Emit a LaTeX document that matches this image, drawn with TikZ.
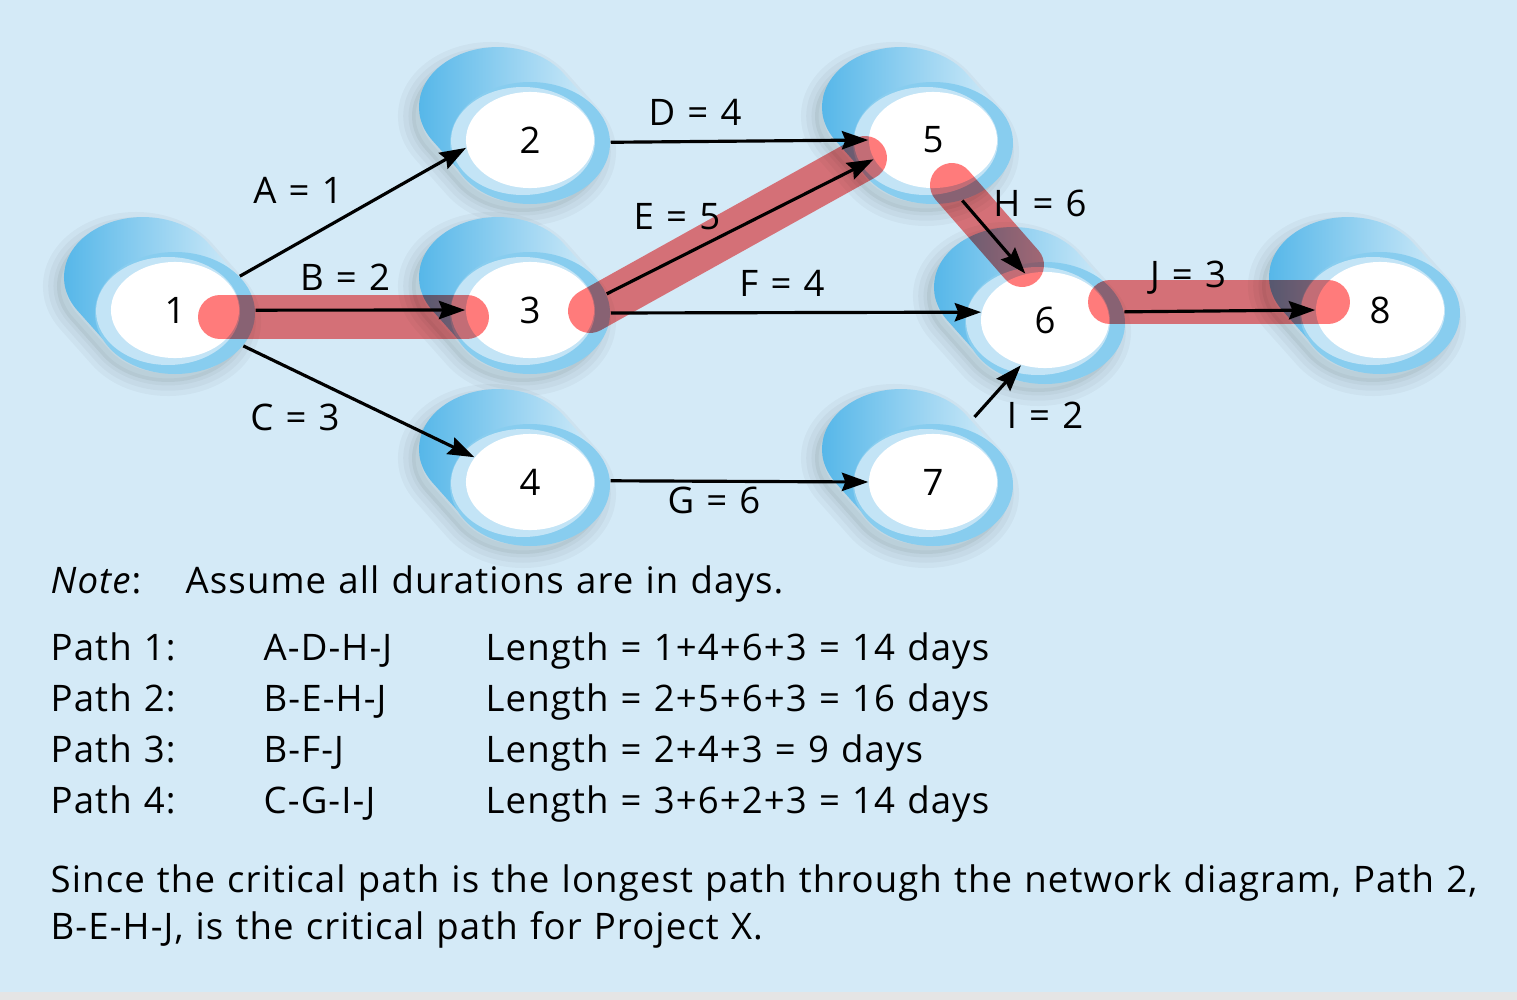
\documentclass[tikz,border=0pt]{standalone}
\usepackage{fontspec}
\setmainfont{Open Sans}[LetterSpace=3, WordSpace=1.15]
\usetikzlibrary{arrows.meta, shapes.geometric}

\definecolor{bgblue}{HTML}{D4EAF7}
\definecolor{ringblue}{HTML}{88CDEF}
\definecolor{paleblue}{HTML}{C3E4F6}
\definecolor{deepblue}{HTML}{4FB4E8}
\definecolor{critred}{HTML}{FF7B7B}

\tikzset{
    every node/.style={font=\fontsize{10.4}{12}\selectfont},
    event/.style={ellipse, fill=white, minimum width=1.28cm, minimum height=0.96cm, inner sep=0pt},
    eventring/.style={ellipse, minimum width=1.6cm, minimum height=1.22cm, inner sep=0pt},
    task/.style={-{Stealth[length=7.5pt,width=5.2pt,inset=1pt]}, line width=0.9pt},
    critical/.style={critred, line width=12.5pt, line cap=round, blend mode=multiply},
    txt/.style={anchor=base west, inner sep=0pt}
}

% outline of the back part of an event (cylinder look)
\newcommand{\hullpath}{(-97.5,0.6) arc[start angle=146, end angle=326, x radius=79, y radius=60]
    -- (65.5,-30.6) arc[start angle=-34, end angle=146, x radius=79, y radius=60] -- cycle}

% event: name, x, y, label
\newcommand{\netevent}[4]{
    \begin{scope}[shift={(#2,#3)}]
        \begin{scope}[shift={(-7,9)}]
            \fill[black, opacity=0.05] \hullpath;
            \foreach \w in {8,5,2}
                \draw[black, opacity=0.03, line width=\w pt, line join=round] \hullpath;
        \end{scope}
        \shade[left color=deepblue, right color=white!50!paleblue] \hullpath;
        \fill[ringblue] (0,3) ellipse[x radius=80, y radius=61];
        \fill[paleblue] (-7,1) ellipse[x radius=72, y radius=54];
    \end{scope}
    \node[event] (n#1) at (#2,#3) {#4};
    \node[eventring] (o#1) at (#2,#3+3) {};
}

\begin{document}
\begin{tikzpicture}[x=0.01cm, y=-0.01cm]
    \fill[bgblue] (0,0) rectangle (1517,1000);
    \fill[black!10] (0,992) rectangle (1517,1000);
    \useasboundingbox (0,0) rectangle (1517,1000);

    \netevent{1}{175}{310}{1}
    \netevent{2}{530}{140}{2}
    \netevent{3}{530}{310}{3}
    \netevent{4}{530}{482}{4}
    \netevent{5}{933}{140}{5}
    \netevent{6}{1045}{320}{6}
    \netevent{7}{933}{482}{7}
    \netevent{8}{1380}{310}{8}

    \draw[task] (o1) -- (n2.187);
    \draw[task] (o1.2) -- (n3.west);
    \draw[task] (o1) -- (n4.156);
    \draw[task] (o2) -- (n5.west);
    \draw[task] (o3.14) -- (n5.198);
    \draw[task] (o3.east) -- (n6.173);
    \draw[task] (o4.3) -- (n7.west);
    \draw[task] (o5.-63) -- (n6.113);
    \draw[task, shorten <=0.15cm] (o7.61) -- (n6.242);
    \draw[task] (o6.8) -- (n8.west);

    \node (la) at (298,190) {A = 1};
    \node (lb) at (345,277) {B = 2};
    \node (lc) at (295,417) {C = 3};
    \node (ld) at (695,112) {D = 4};
    \node (le) at (677,217) {E = 5};
    \node (lf) at (782,283) {F = 4};
    \node (lg) at (714,500) {G = 6};
    \node (lh) at (1040,203) {H = 6};
    \node (li) at (1045,415) {I = 2};
    \node (lj) at (1188,278) {J = 3};

    % critical path
    \coordinate (bB1) at (220,317);
    \coordinate (bB2) at (467,317);
    \coordinate (bE1) at (590,311);
    \coordinate (bE2) at (865,158);
    \coordinate (bH1) at (952,185);
    \coordinate (bH2) at (1022,265);
    \coordinate (bJ1) at (1110,302);
    \coordinate (bJ2) at (1328,302);
    \draw[critical] (bB1) -- (bB2);
    \draw[critical] (bE1) -- (bE2);
    \draw[critical] (bH1) -- (bH2);
    \draw[critical] (bJ1) -- (bJ2);

    \node[txt] (note) at (50,593) {\textit{Note}:};
    \node[txt] (assume) at (185,593) {Assume all durations are in days.};
    \foreach \i/\y/\seq/\len in {1/660/A-D-H-J/1+4+6+3 = 14, 2/711/B-E-H-J/2+5+6+3 = 16,
        3/762/B-F-J/2+4+3 = 9, 4/813/C-G-I-J/3+6+2+3 = 14} {
        \node[txt] (p\i) at (50,\y) {Path \i:};
        \node[txt] (s\i) at (263,\y) {\seq};
        \node[txt] (l\i) at (485,\y) {Length = \len\ days};
    }
    \node[txt] (since) at (50,892) {Since the critical path is the longest path through the network diagram, Path 2,};
    \node[txt] (since2) at (50,939) {B-E-H-J, is the critical path for Project X.};
\end{tikzpicture}
\end{document}
